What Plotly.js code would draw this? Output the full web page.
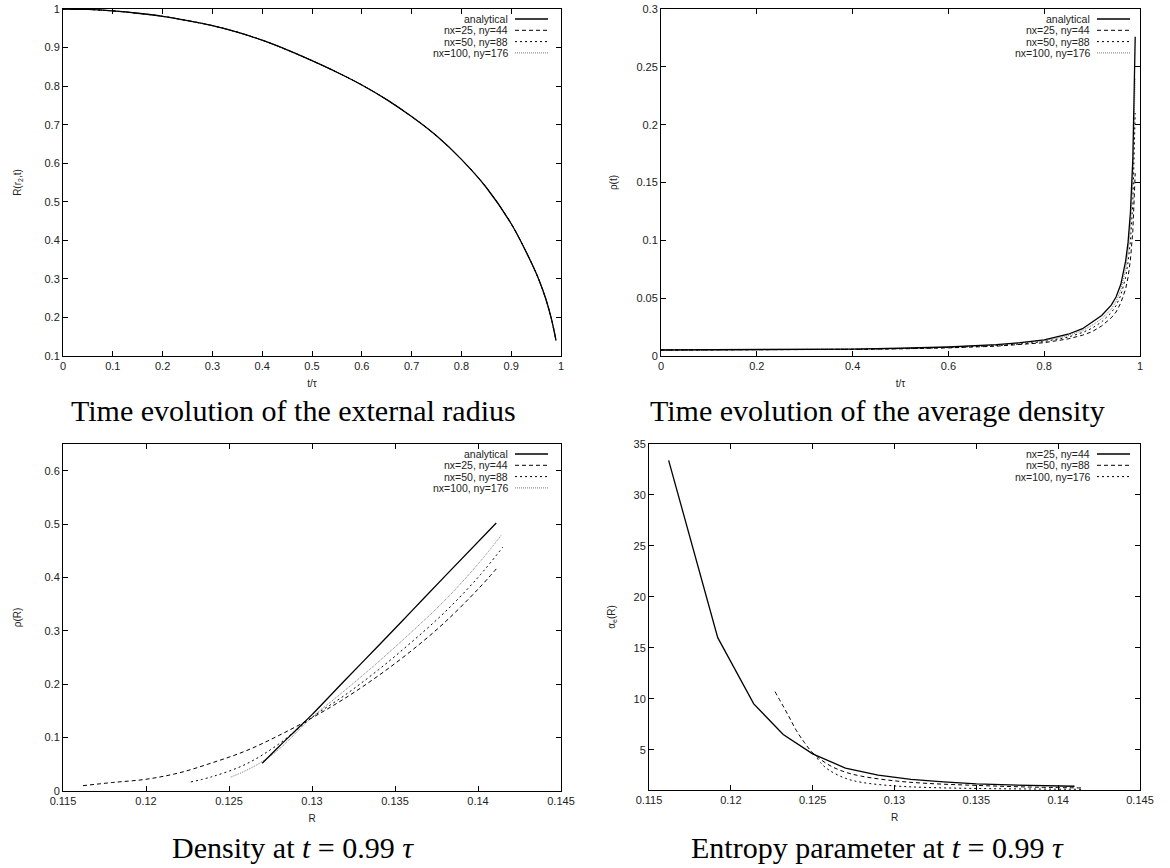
<!DOCTYPE html>
<html>
<head>
<meta charset="utf-8">
<script src="https://cdn.plot.ly/plotly-3.0.1.min.js"></script>
<style>html,body{margin:0;padding:0;background:#fff;}#chart{width:1170px;height:868px;}</style>
</head>
<body>
<div id="chart"></div>
<script>
// ---------- Data ----------
// Panel 1: external radius vs t/tau
const tRadius = [0, 0.05, 0.1, 0.15, 0.2, 0.25, 0.3, 0.35, 0.4, 0.45, 0.5, 0.55, 0.6, 0.65, 0.7, 0.75, 0.8, 0.85, 0.9, 0.93, 0.95, 0.96, 0.97, 0.98, 0.985, 0.99];
const radiusAnalytical = [1.000, 0.999, 0.995, 0.989, 0.981, 0.970, 0.957, 0.940, 0.919, 0.894, 0.866, 0.836, 0.803, 0.765, 0.721, 0.671, 0.610, 0.537, 0.443, 0.370, 0.315, 0.283, 0.246, 0.200, 0.172, 0.140];
const radiusNx25 = [1.000, 0.999, 0.995, 0.989, 0.981, 0.970, 0.957, 0.940, 0.919, 0.894, 0.866, 0.836, 0.803, 0.765, 0.721, 0.671, 0.610, 0.537, 0.443, 0.370, 0.315, 0.283, 0.246, 0.200, 0.172, 0.141];
const radiusNx50 = [1.000, 0.999, 0.995, 0.989, 0.981, 0.970, 0.957, 0.940, 0.919, 0.894, 0.866, 0.836, 0.803, 0.765, 0.721, 0.671, 0.610, 0.537, 0.443, 0.370, 0.315, 0.283, 0.246, 0.200, 0.172, 0.140];
const radiusNx100 = [1.000, 0.999, 0.995, 0.989, 0.981, 0.970, 0.957, 0.940, 0.919, 0.894, 0.866, 0.836, 0.803, 0.765, 0.721, 0.671, 0.610, 0.537, 0.443, 0.370, 0.315, 0.283, 0.246, 0.200, 0.172, 0.140];

// Panel 2: average density vs t/tau
const tDensity = [0, 0.1, 0.2, 0.3, 0.4, 0.5, 0.6, 0.7, 0.75, 0.8, 0.85, 0.88, 0.9, 0.92, 0.94, 0.95, 0.96, 0.97, 0.975, 0.98, 0.985, 0.99];
const avgRhoAnalytical = [0.0052, 0.0053, 0.0054, 0.0056, 0.0060, 0.0067, 0.0078, 0.0098, 0.0115, 0.0140, 0.0188, 0.0236, 0.0290, 0.0350, 0.0440, 0.0510, 0.0620, 0.0820, 0.0980, 0.1240, 0.1700, 0.2760];
const avgRhoNx25 = [0.0052, 0.0052, 0.0053, 0.0054, 0.0057, 0.0062, 0.0070, 0.0085, 0.0097, 0.0115, 0.0148, 0.0180, 0.0210, 0.0260, 0.0330, 0.0380, 0.0460, 0.0580, 0.0680, 0.0830, 0.1080, 0.1580];
const avgRhoNx50 = [0.0052, 0.0052, 0.0053, 0.0055, 0.0058, 0.0064, 0.0073, 0.0090, 0.0104, 0.0125, 0.0163, 0.0203, 0.0240, 0.0295, 0.0375, 0.0435, 0.0525, 0.0680, 0.0810, 0.0990, 0.1320, 0.2100];
const avgRhoNx100 = [0.0052, 0.0053, 0.0054, 0.0055, 0.0059, 0.0066, 0.0076, 0.0094, 0.0110, 0.0132, 0.0176, 0.0220, 0.0265, 0.0322, 0.0405, 0.0470, 0.0570, 0.0750, 0.0900, 0.1120, 0.1520, 0.2400];

// Panel 3: density profile at t = 0.99 tau
const rAnalytical = [0.127, 0.128, 0.129, 0.130, 0.132, 0.134, 0.136, 0.138, 0.1411];
const rhoAnalytical = [0.052, 0.083, 0.113, 0.143, 0.208, 0.272, 0.337, 0.402, 0.502];
const rNx25 = [0.1162, 0.118, 0.120, 0.122, 0.124, 0.126, 0.128, 0.130, 0.132, 0.134, 0.136, 0.138, 0.140, 0.1411];
const rhoNx25 = [0.010, 0.016, 0.022, 0.034, 0.053, 0.075, 0.104, 0.137, 0.174, 0.216, 0.263, 0.316, 0.378, 0.416];
const rNx50 = [0.1227, 0.124, 0.126, 0.128, 0.130, 0.132, 0.134, 0.136, 0.138, 0.140, 0.1415];
const rhoNx50 = [0.017, 0.027, 0.050, 0.088, 0.138, 0.180, 0.227, 0.279, 0.335, 0.400, 0.457];
const rNx100 = [0.1251, 0.126, 0.127, 0.128, 0.130, 0.132, 0.134, 0.136, 0.138, 0.140, 0.1414];
const rhoNx100 = [0.026, 0.038, 0.055, 0.078, 0.138, 0.189, 0.242, 0.298, 0.357, 0.425, 0.479];

// Panel 4: entropy parameter at t = 0.99 tau
const rAlpha25 = [0.1162, 0.1192, 0.1214, 0.1232, 0.1250, 0.127, 0.129, 0.131, 0.133, 0.135, 0.137, 0.139, 0.141];
const alpha25 = [33.4, 16.0, 9.5, 6.5, 4.6, 3.2, 2.5, 2.1, 1.85, 1.65, 1.55, 1.48, 1.42];
const rAlpha50 = [0.1227, 0.1235, 0.124, 0.1245, 0.125, 0.126, 0.127, 0.128, 0.130, 0.132, 0.135, 0.138, 0.1415];
const alpha50 = [10.7, 8.4, 6.9, 5.7, 4.7, 3.5, 2.8, 2.4, 1.95, 1.7, 1.5, 1.35, 1.25];
const rAlpha100 = [0.1251, 0.1255, 0.126, 0.127, 0.128, 0.130, 0.132, 0.135, 0.138, 0.1414];
const alpha100 = [4.6, 3.7, 3.0, 2.2, 1.8, 1.45, 1.3, 1.2, 1.15, 1.12];

// Labels
const namesWithAnalytical = ['analytical', 'nx=25, ny=44', 'nx=50, ny=88', 'nx=100, ny=176'];
const namesNumerical = ['nx=25, ny=44', 'nx=50, ny=88', 'nx=100, ny=176'];
const captions = ['Time evolution of the external radius', 'Time evolution of the average density',
                  'Density at <i>t</i> = 0.99 <i>τ</i>', 'Entropy parameter at <i>t</i> = 0.99 <i>τ</i>'];
const xTitles = ['t/τ', 't/τ', 'R', 'R'];
const yTitles = ['R(r<sub>2</sub>,t)', 'ρ(t)', 'ρ(R)', 'α<sub>e</sub>(R)'];

// ---------- Styles ----------
const W = 1170, H = 868;
const px = v => v / W, py = v => 1 - v / H;
const S_SOLID = {color: '#000', width: 1.3, dash: 'solid'};
const S_DASH = {color: '#000', width: 1, dash: '4px,3px'};
const S_DOT = {color: '#000', width: 1, dash: '2px,3px'};
const S_FINE = {color: '#777', width: 1, dash: '1px,1px'};
const stylesA = [S_SOLID, S_DASH, S_DOT, S_FINE];
const stylesB = [S_SOLID, S_DASH, S_DOT];

function tr(x, y, name, line, ax, smooth) {
  return {x: x, y: y, name: name, type: 'scatter', mode: 'lines',
          line: Object.assign({shape: smooth ? 'spline' : 'linear', smoothing: 1}, line),
          xaxis: 'x' + ax, yaxis: 'y' + ax, showlegend: false, hoverinfo: 'x+y+name'};
}

const data = [];
// panel 1 (draw numerical first so analytical on top)
[[radiusNx100, 3], [radiusNx50, 2], [radiusNx25, 1], [radiusAnalytical, 0]].forEach(([ys, i]) =>
  data.push(tr(tRadius, ys, namesWithAnalytical[i], stylesA[i], '', true)));
// panel 2
[[avgRhoNx100, 3], [avgRhoNx50, 2], [avgRhoNx25, 1], [avgRhoAnalytical, 0]].forEach(([ys, i]) =>
  data.push(tr(tDensity, ys, namesWithAnalytical[i], stylesA[i], '2', false)));
// panel 3
data.push(tr(rNx100, rhoNx100, namesWithAnalytical[3], stylesA[3], '3', true));
data.push(tr(rNx50, rhoNx50, namesWithAnalytical[2], stylesA[2], '3', true));
data.push(tr(rNx25, rhoNx25, namesWithAnalytical[1], stylesA[1], '3', true));
data.push(tr(rAnalytical, rhoAnalytical, namesWithAnalytical[0], stylesA[0], '3', true));
// panel 4
data.push(tr(rAlpha100, alpha100, namesNumerical[2], stylesB[2], '4', true));
data.push(tr(rAlpha50, alpha50, namesNumerical[1], stylesB[1], '4', true));
data.push(tr(rAlpha25, alpha25, namesNumerical[0], stylesB[0], '4', false));

// ---------- Layout ----------
const tickFont = {family: 'Liberation Sans, Arial, sans-serif', size: 11, color: '#222'};
const titleFont = {family: 'Liberation Sans, Arial, sans-serif', size: 10, color: '#222'};
function axis(domain, range, dtick, anchor, title, standoff) {
  return {domain: domain, range: range, dtick: dtick, tick0: 0, anchor: anchor,
          ticks: 'inside', ticklen: 5, tickcolor: '#000', mirror: 'allticks',
          showline: true, linecolor: '#000', linewidth: 1, showgrid: false, zeroline: false,
          tickfont: tickFont, fixedrange: true,
          title: {text: title, font: titleFont, standoff: standoff}};
}
// plot frames (pixels in the 1170x868 canvas)
const frames = [
  {l: 63, r: 561, t: 9, b: 356},
  {l: 661, r: 1140, t: 9, b: 356},
  {l: 63, r: 561, t: 444, b: 791},
  {l: 649, r: 1140, t: 444, b: 790}
];
const dx = f => [px(f.l), px(f.r)];
const dy = f => [py(f.b), py(f.t)];

const layout = {
  width: W, height: H, margin: {l: 0, r: 0, t: 0, b: 0},
  paper_bgcolor: '#fff', plot_bgcolor: '#fff', showlegend: false,
  xaxis: axis(dx(frames[0]), [0, 1], 0.1, 'y', xTitles[0], 8),
  yaxis: axis(dy(frames[0]), [0.1, 1], 0.1, 'x', yTitles[0], 21),
  xaxis2: axis(dx(frames[1]), [0, 1], 0.2, 'y2', xTitles[1], 8),
  yaxis2: axis(dy(frames[1]), [0, 0.3], 0.05, 'x2', yTitles[1], 16),
  xaxis3: axis(dx(frames[2]), [0.115, 0.145], 0.005, 'y3', xTitles[2], 8),
  yaxis3: axis(dy(frames[2]), [0, 0.65], 0.1, 'x3', yTitles[2], 21),
  xaxis4: axis(dx(frames[3]), [0.115, 0.145], 0.005, 'y4', xTitles[3], 8),
  yaxis4: axis(dy(frames[3]), [1.05, 35], 5, 'x4', yTitles[3], 16),
  annotations: [], shapes: []
};

// captions
const capFont = {family: 'Liberation Serif, Times New Roman, serif', size: 30, color: '#000'};
const capPos = [[293, 410], [877, 410], [293, 847], [877, 847]];
captions.forEach((c, i) => layout.annotations.push({
  text: c, xref: 'paper', yref: 'paper', x: px(capPos[i][0]), y: py(capPos[i][1]),
  xanchor: 'center', yanchor: 'middle', showarrow: false, font: capFont}));

// gnuplot-style keys: text right-aligned, line sample on the right
const keyFont = {family: 'Liberation Sans, Arial, sans-serif', size: 10.5, color: '#222'};
function key(names, styles, textRight, sampleL, sampleR, y0) {
  names.forEach((n, i) => {
    const y = y0 + i * 11.3;
    layout.annotations.push({text: n, xref: 'paper', yref: 'paper', x: px(textRight), y: py(y),
      xanchor: 'right', yanchor: 'middle', showarrow: false, font: keyFont});
    layout.shapes.push({type: 'line', xref: 'paper', yref: 'paper',
      x0: px(sampleL), x1: px(sampleR), y0: py(y), y1: py(y),
      line: {color: styles[i].color, width: styles[i].width, dash: styles[i].dash}});
  });
}
key(namesWithAnalytical, stylesA, 510, 515, 548, 19);
key(namesWithAnalytical, stylesA, 1092, 1097, 1130, 19);
key(namesWithAnalytical, stylesA, 510, 515, 548, 454);
key(namesNumerical, stylesB, 1092, 1097, 1130, 454);

Plotly.newPlot('chart', data, layout, {staticPlot: true, displayModeBar: false});
</script>
</body>
</html>
